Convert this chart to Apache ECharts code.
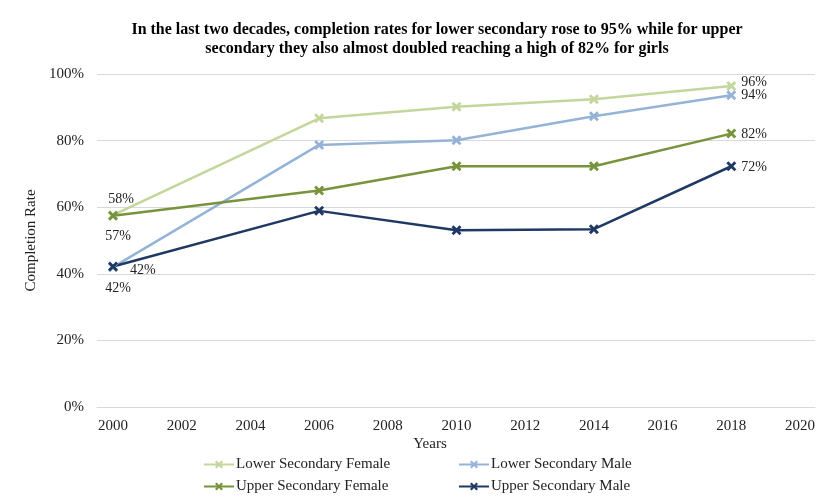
<!DOCTYPE html>
<html>
<head>
<meta charset="utf-8">
<script src="https://cdn.jsdelivr.net/npm/echarts@6/dist/echarts.min.js"></script>
<style>
	html, body {margin: 0; padding: 0; background: #fff;}
	#container {width: 832px; height: 501px;}
</style>
</head>
<body>
<div id="container"></div>
<script>
// values (percent)
const Years = [2000, 2006, 2010, 2014, 2018];
const LowerFemale = [57.6, 86.7, 90.2, 92.4, 96.4];
const LowerMale = [42.0, 78.7, 80.1, 87.3, 93.6];
const UpperFemale = [57.4, 65.0, 72.3, 72.3, 82.1];
const UpperMale = [42.2, 58.9, 53.1, 53.4, 72.3];
const YTicks = [0, 20, 40, 60, 80, 100];

const Font = '"Liberation Serif", "DejaVu Serif", serif';
const XMark = 'path://M2,0 L5,3 L8,0 L10,2 L7,5 L10,8 L8,10 L5,7 L2,10 L0,8 L3,5 L0,2 Z';

// label settings for first / last point of each series
function Points(Values, First, Last) {
	return Values.map(function (v, i) {
		const item = {value: [Years[i], v]};
		const lab = i === 0 ? First : (i === Values.length - 1 ? Last : null);
		if (lab) {
			item.label = Object.assign({
				show: true, formatter: Math.round(v) + '%', color: '#222', fontFamily: Font, fontSize: 14
			}, lab);
		}
		return item;
	});
}

function Line(name, color, Values, First, Last) {
	return {
		name: name, type: 'line', xAxisIndex: 1, yAxisIndex: 1,
		symbol: XMark, symbolSize: 10, showAllSymbol: true,
		lineStyle: {color: color, width: 2.5},
		itemStyle: {color: color, borderWidth: 0},
		data: Points(Values, First, Last), z: 5
	};
}

const option = {
	animation: false,
	title: [{
		text: 'In the last two decades, completion rates for lower secondary rose to 95% while for upper\nsecondary they also almost doubled reaching a high of 82% for girls',
		left: 432, top: 15, textAlign: 'center',
		textStyle: {fontFamily: Font, fontSize: 16, fontWeight: 'bold', color: '#000', lineHeight: 19}
	}, {
		text: 'Years', left: 425, top: 432, textAlign: 'center',
		textStyle: {fontFamily: Font, fontSize: 15, fontWeight: 'normal', color: '#222'}
	}],
	legend: [{
		orient: 'vertical', left: 203, top: 457, height: 60, padding: 0, itemGap: 7, itemWidth: 30, itemHeight: 10,
		data: ['Lower Secondary Female', 'Upper Secondary Female'],
		textStyle: {fontFamily: Font, fontSize: 15, color: '#222', padding: [0, 0, 0, -3]}
	}, {
		orient: 'vertical', left: 458, top: 457, height: 60, padding: 0, itemGap: 7, itemWidth: 30, itemHeight: 10,
		data: ['Lower Secondary Male', 'Upper Secondary Male'],
		textStyle: {fontFamily: Font, fontSize: 15, color: '#222', padding: [0, 0, 0, -3]}
	}],
	grid: [
		{left: 97, right: 17, top: 74, bottom: 94},
		{left: 113, right: 32, top: 74, bottom: 94}
	],
	xAxis: [{
		gridIndex: 0, type: 'value', min: 0, max: 1, show: true,
		axisLine: {show: true, lineStyle: {color: '#d9d9d9', width: 1}},
		axisTick: {show: false}, axisLabel: {show: false}, splitLine: {show: false}
	}, {
		gridIndex: 1, type: 'value', min: 2000, max: 2020, interval: 2,
		axisLine: {show: false}, axisTick: {show: false}, splitLine: {show: false},
		axisLabel: {margin: 12, fontFamily: Font, fontSize: 15, color: '#222', formatter: function (v) { return String(v); }}
	}],
	yAxis: [{
		gridIndex: 0, type: 'value', min: YTicks[0], max: YTicks[YTicks.length - 1], interval: 20,
		name: 'Completion Rate', nameLocation: 'middle', nameGap: 56, nameRotate: 90,
		nameTextStyle: {fontFamily: Font, fontSize: 15, color: '#222'},
		axisLine: {show: false}, axisTick: {show: false},
		axisLabel: {margin: 13, fontFamily: Font, fontSize: 15, color: '#222', formatter: '{value}%'},
		splitLine: {show: true, lineStyle: {color: '#d9d9d9', width: 1}}
	}, {
		gridIndex: 1, type: 'value', min: 0, max: 100, show: false
	}],
	series: [
		Line('Lower Secondary Female', '#c3d69b', LowerFemale,
			{position: 'top', offset: [8, 1]}, {position: 'right', offset: [0, -4]}),
		Line('Lower Secondary Male', '#95b3d7', LowerMale,
			{position: 'bottom', offset: [5, 4]}, {position: 'right', offset: [0, 0]}),
		Line('Upper Secondary Female', '#77933c', UpperFemale,
			{position: 'bottom', offset: [5, 3]}, {position: 'right', offset: [0, 1]}),
		Line('Upper Secondary Male', '#1f3864', UpperMale,
			{position: 'right', offset: [7, 4]}, {position: 'right', offset: [0, 1]})
	]
};
echarts.init(document.getElementById('container')).setOption(option);
</script>
</body>
</html>
